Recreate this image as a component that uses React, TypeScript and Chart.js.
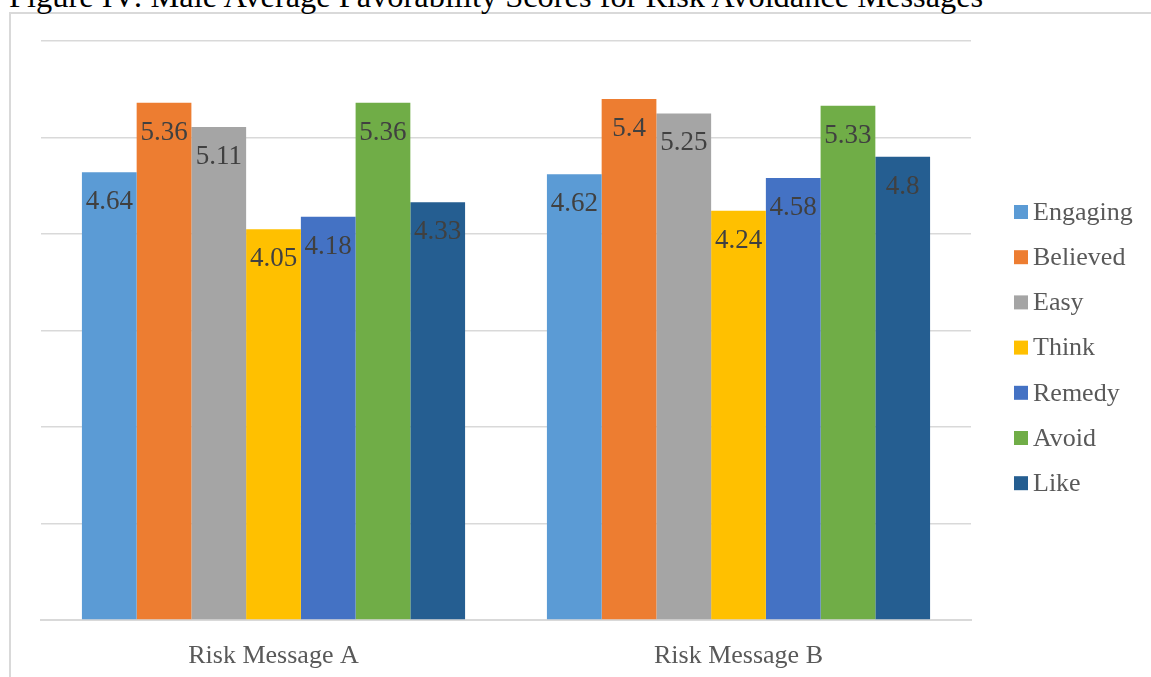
import React, { useEffect, useRef } from "react";
import { Chart, registerables } from "chart.js";

Chart.register(...registerables);

const categories = ["Risk Message A", "Risk Message B"];
const seriesNames = ["Engaging", "Believed", "Easy", "Think", "Remedy", "Avoid", "Like"];
const seriesColors = ["#5B9BD5", "#ED7D31", "#A5A5A5", "#FFC000", "#4472C4", "#70AD47", "#255E91"];
const engaging = [4.64, 4.62];
const believed = [5.36, 5.4];
const easy = [5.11, 5.25];
const think = [4.05, 4.24];
const remedy = [4.18, 4.58];
const avoid = [5.36, 5.33];
const like = [4.33, 4.8];
const seriesValues = [engaging, believed, easy, think, remedy, avoid, like];
const titleText = "Figure IV: Male Average Favorability Scores for Risk Avoidance Messages";

const FONT = "'Liberation Serif', 'Times New Roman', serif";

const valueLabels = {
  id: "valueLabels",
  afterDatasetsDraw(chart: any) {
    const ctx = chart.ctx;
    ctx.save();
    ctx.font = `27px ${FONT}`;
    ctx.fillStyle = "#404040";
    ctx.textAlign = "center";
    ctx.textBaseline = "middle";
    chart.data.datasets.forEach((ds: any, i: number) => {
      const meta = chart.getDatasetMeta(i);
      meta.data.forEach((bar: any, j: number) => {
        ctx.fillText(String(ds.data[j]), bar.x, bar.y + 30);
      });
    });
    ctx.restore();
  },
};

const sideLegend = {
  id: "sideLegend",
  afterDraw(chart: any) {
    const ctx = chart.ctx;
    ctx.save();
    ctx.font = `26px ${FONT}`;
    ctx.textBaseline = "middle";
    ctx.textAlign = "left";
    const x0 = chart.chartArea.right + 43;
    const yStart = 212;
    const step = 45.2;
    chart.data.datasets.forEach((ds: any, i: number) => {
      const cy = yStart + i * step;
      ctx.fillStyle = ds.backgroundColor;
      ctx.fillRect(x0, cy - 7, 14, 14);
      ctx.fillStyle = "#595959";
      ctx.fillText(ds.label, x0 + 19, cy + 1);
    });
    ctx.restore();
  },
};

export default function App() {
  const ref = useRef<HTMLCanvasElement>(null);
  useEffect(() => {
    if (!ref.current) return;
    const chart = new Chart(ref.current, {
      type: "bar",
      data: {
        labels: categories,
        datasets: seriesNames.map((name, i) => ({
          label: name,
          data: seriesValues[i],
          backgroundColor: seriesColors[i],
          borderWidth: 0,
        })),
      },
      options: {
        responsive: false,
        animation: false,
        layout: { padding: { left: 41, top: 41, right: 180, bottom: 0 } },
        plugins: {
          legend: { display: false },
          tooltip: { enabled: false },
          title: { display: false },
        },
        datasets: {
          bar: { categoryPercentage: 0.824, barPercentage: 1 },
        },
        scales: {
          x: {
            grid: { display: false, drawTicks: false },
            border: { display: true, color: "#D9D9D9", width: 2 },
            ticks: { color: "#595959", font: { family: FONT, size: 26 }, padding: 21 },
            afterFit: (scale: any) => {
              scale.height = 57;
            },
          },
          y: {
            min: 0,
            max: 6,
            ticks: { display: false, stepSize: 1 },
            grid: { color: "#D9D9D9", lineWidth: 1.5, drawTicks: false },
            border: { display: false },
          },
        },
      },
      plugins: [valueLabels, sideLegend],
    });
    return () => chart.destroy();
  }, []);

  return (
    <div
      style={{
        position: "fixed",
        left: 0,
        top: 0,
        width: 1151,
        height: 677,
        overflow: "hidden",
        background: "#fff",
      }}
    >
      <div
        style={{
          position: "absolute",
          left: 9,
          top: 12,
          width: 1300,
          height: 800,
          borderLeft: "2px solid #D9D9D9",
          borderTop: "2px solid #D9D9D9",
        }}
      />
      <div
        style={{
          position: "absolute",
          left: 9,
          top: -20,
          fontFamily: FONT,
          fontSize: 32.4,
          lineHeight: "32px",
          color: "#000",
          whiteSpace: "nowrap",
        }}
      >
        {titleText}
      </div>
      <canvas ref={ref} width={1151} height={677} style={{ position: "absolute", left: 0, top: 0 }} />
    </div>
  );
}
